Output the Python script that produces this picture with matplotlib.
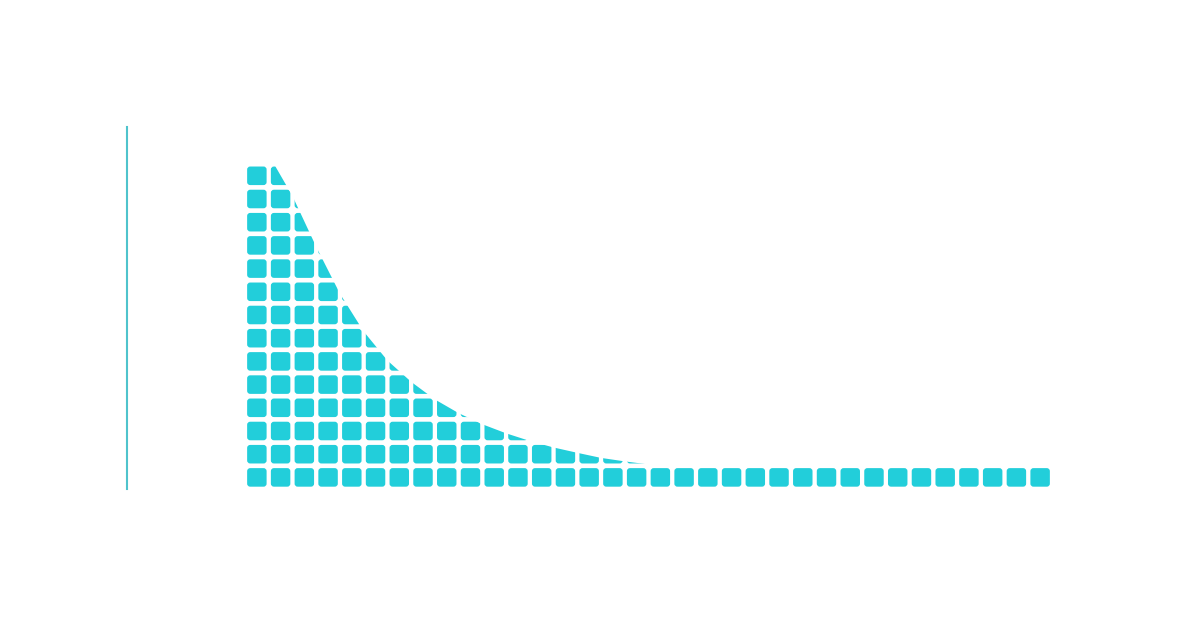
import numpy as np
import matplotlib
matplotlib.use("Agg")
import matplotlib.pyplot as plt
from matplotlib.patches import FancyBboxPatch, Polygon
from matplotlib.collections import PatchCollection

# grid size of the waffle: 34 columns x 14 rows
n_cols = 34
n_rows = 14

# height of the decay curve (in rows) at each column boundary, 0..34
curve_edges = [14.2, 14.4, 12.63, 10.44, 8.42, 6.79, 5.54, 4.62, 3.86, 3.27,
               2.79, 2.40, 2.07, 1.79, 1.56, 1.34, 1.19, 1.06, 0.97, 0.93,
               0.93, 0.93, 0.93, 0.93, 0.93, 0.93, 0.93, 0.93, 0.93, 0.93,
               0.93, 0.93, 0.93, 0.93, 0.93]

square_color = "#22CEDA"
line_color = "#4FC3CC"

fig = plt.figure(figsize=(12, 6.3), dpi=100)
fig.patch.set_facecolor("white")
ax = fig.add_axes([127 / 1200, 141 / 630, 925 / 1200, 362 / 630])

# every cell of the grid as a rounded square
w, h = 0.82, 0.80
squares = []
for c in range(n_cols):
    for r in range(n_rows):
        squares.append(FancyBboxPatch((c + (1 - w) / 2, r + (1 - h) / 2), w, h,
                                      boxstyle="round,pad=0,rounding_size=0.13"))
coll = PatchCollection(squares, facecolor=square_color, edgecolor="none")
ax.add_collection(coll)

# clip the grid with the area under the curve
xs = np.arange(n_cols + 1)
verts = [(0, 0)] + list(zip(xs, curve_edges)) + [(n_cols, 0)]
clip = Polygon(verts, closed=True, transform=ax.transData, facecolor="none", edgecolor="none")
ax.add_patch(clip)
coll.set_clip_path(clip)

ax.set_xlim(-(245 - 127) / (807 / 34), n_cols)
ax.set_ylim(0, (489 - 127) / 23.2)

for s in ["top", "right", "bottom"]:
    ax.spines[s].set_visible(False)
ax.spines["left"].set_color(line_color)
ax.spines["left"].set_linewidth(1.5)
ax.set_xticks([])
ax.set_yticks([])
ax.set_facecolor("white")

fig.savefig("out.png", dpi=100)
